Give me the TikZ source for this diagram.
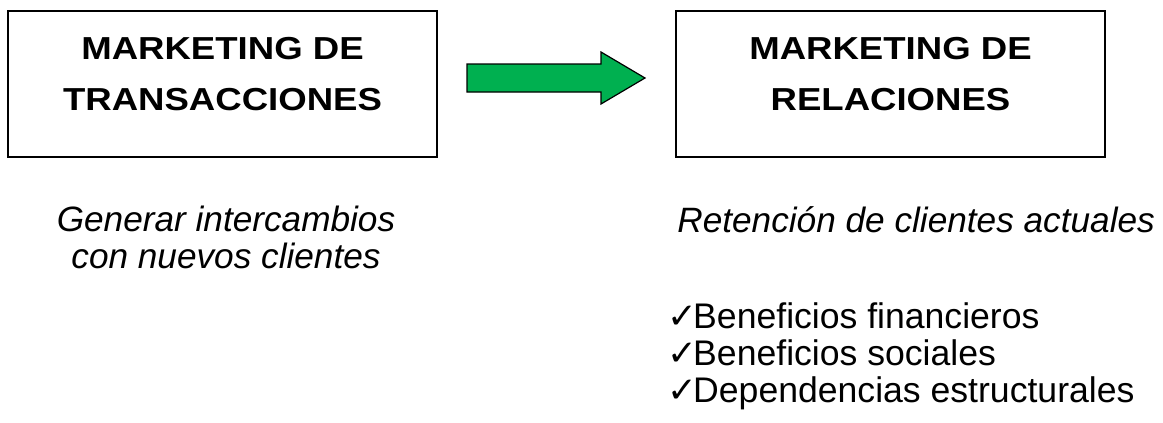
\documentclass[tikz,border=0pt]{standalone}
\usepackage{fontspec}
\setmainfont{Liberation Sans}
\newfontfamily\titlefont[FakeStretch=1.15]{Liberation Sans}
\newfontfamily\checkfont{DejaVu Sans}
\usetikzlibrary{positioning}
\definecolor{arrowgreen}{HTML}{00B050}

\begin{document}
\begin{tikzpicture}[
    x=0.5pt, y=-0.5pt,
    marketing/.style={
        rectangle,
        draw,
        line width=0.9pt,
        minimum width=214.5pt,
        minimum height=73pt
    },
    heading/.style={
        align=center,
        font=\titlefont\bfseries\fontsize{15.9}{25.5}\selectfont
    },
    note/.style={
        align=center,
        inner sep=0pt,
        font=\itshape\fontsize{17.6}{18.5}\selectfont
    },
    benefits/.style={
        align=left,
        inner sep=0pt,
        font=\fontsize{17.8}{18.5}\selectfont
    }
]
\useasboundingbox (0,0) rectangle (1163,423);

\node[marketing] (transacciones) at (222.5,84) {};
\node[marketing] (relaciones) at (890.5,84) {};

\node[heading] (transtitle) at (transacciones.center) [yshift=5pt] {MARKETING DE\\TRANSACCIONES};
\node[heading] (reltitle) at (relaciones.center) [yshift=5pt] {MARKETING DE\\RELACIONES};

\filldraw[fill=arrowgreen, draw=black, line width=0.6pt]
    (467,64) -- (601,64) -- (601,52) -- (645,78) -- (601,104) -- (601,92) -- (467,92) -- cycle;

\node[note] (transnote) at (226,237) {Generar intercambios\\con nuevos clientes};
\node[note, anchor=base west] (relnote) at (677,232) {Retención de clientes actuales};

\node[benefits, anchor=north west] (beneficios) at (667,302)
{{\checkfont ✓}\kern-2pt Beneficios financieros\\
 {\checkfont ✓}\kern-2pt Beneficios sociales\\
 {\checkfont ✓}\kern-2pt Dependencias estructurales};

\end{tikzpicture}
\end{document}
